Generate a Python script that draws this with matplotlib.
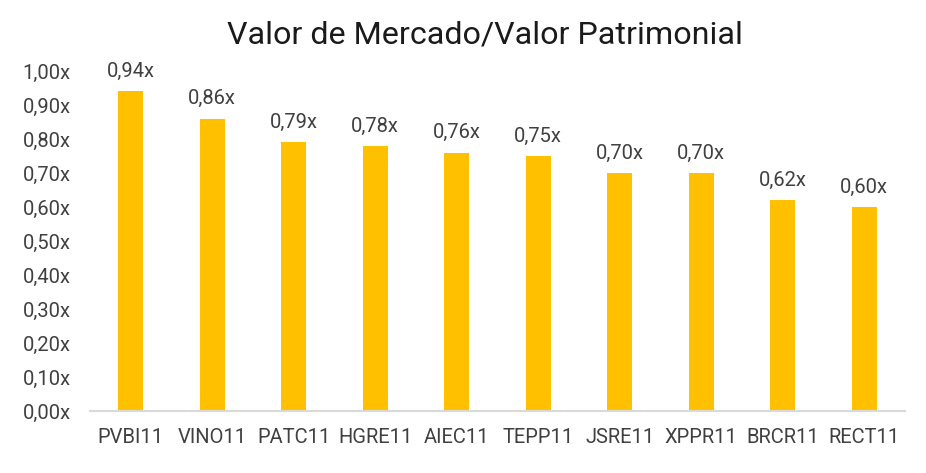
import matplotlib
matplotlib.use("Agg")
import matplotlib.pyplot as plt
from matplotlib.ticker import FuncFormatter

categories = ["PVBI11", "VINO11", "PATC11", "HGRE11", "AIEC11", "TEPP11", "JSRE11", "XPPR11", "BRCR11", "RECT11"]
values = [0.94, 0.86, 0.79, 0.78, 0.76, 0.75, 0.70, 0.70, 0.62, 0.60]
yticks = [0.0, 0.1, 0.2, 0.3, 0.4, 0.5, 0.6, 0.7, 0.8, 0.9, 1.0]
title = "Valor de Mercado/Valor Patrimonial"

plt.rcParams['font.family'] = ['Roboto', 'DejaVu Sans']
text_color = "#404040"
fs = 14.5

fig = plt.figure(figsize=(9.26, 4.73), dpi=100)
ax = fig.add_axes([0.0972, 0.131, 0.88, 0.719])

x = range(len(categories))
ax.bar(x, values, width=0.31, color="#FFC000")
for xi, v in zip(x, values):
    ax.text(xi, v + 0.03, f"{v:.2f}x".replace(".", ","), ha="center", va="bottom",
            fontsize=fs, color=text_color)

ax.set_xlim(-0.5, len(categories) - 0.5)
ax.set_ylim(0, 1.0)
ax.set_yticks(yticks)
ax.yaxis.set_major_formatter(FuncFormatter(lambda v, p: f"{v:.2f}x".replace(".", ",")))
ax.set_xticks(list(x))
ax.set_xticklabels(categories)
ax.tick_params(axis="both", length=0, labelsize=fs, colors=text_color)
ax.tick_params(axis="x", pad=12)
ax.tick_params(axis="y", pad=14)

for s in ["top", "right", "left"]:
    ax.spines[s].set_visible(False)
ax.spines["bottom"].set_color("#D9D9D9")
ax.spines["bottom"].set_linewidth(1.5)

fig.text(0.524, 0.926, title, ha="center", va="center", fontsize=23.2, color="#1a1a1a")

fig.savefig("out.png", dpi=100)
